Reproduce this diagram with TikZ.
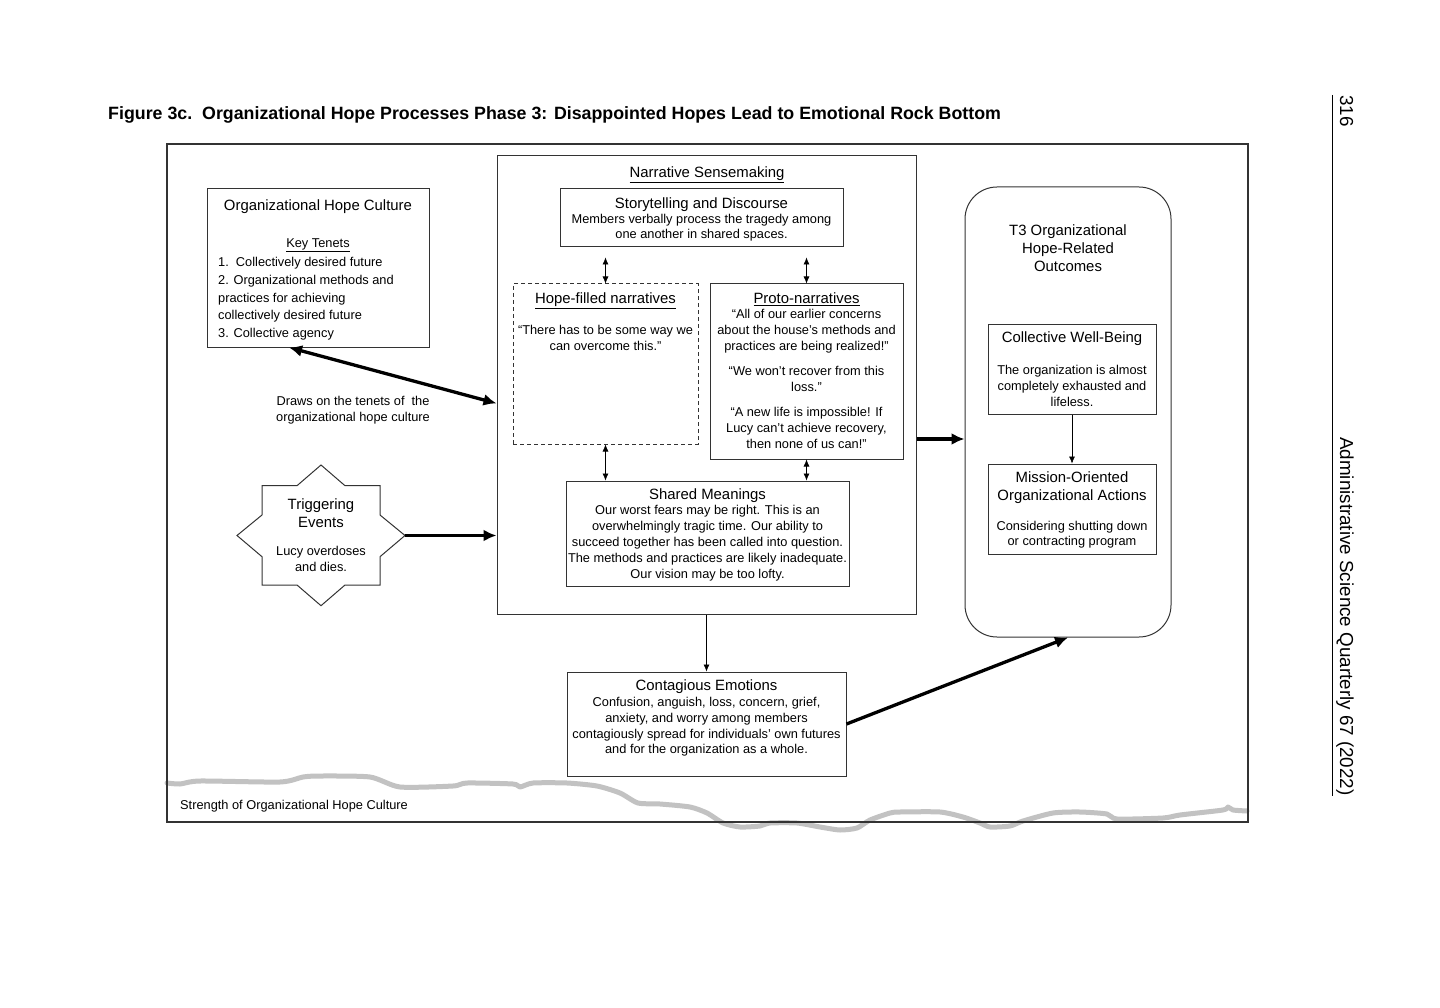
\documentclass[tikz,border=0pt]{standalone}
\usepackage{fontspec}
\setmainfont{Liberation Sans}
\usetikzlibrary{arrows.meta}
\tikzstyle{panel} = [rectangle, draw=black!80, line width=1pt, inner sep=0pt]
\tikzstyle{dashpanel} = [panel, dash pattern=on 4pt off 3pt]
\tikzstyle{roundpanel} = [panel, rounded corners=32pt]
\tikzstyle{head} = [inner sep=0pt, align=center, font=\fontsize{14.9}{18}\selectfont]
\tikzstyle{txt} = [inner sep=0pt, align=center, font=\fontsize{12.8}{15.8}\selectfont]
\tikzstyle{arrow} = [line width=3.3pt, -{Latex[length=13pt,width=12pt]}]
\tikzstyle{dblarrow} = [line width=3.3pt, {Latex[length=13pt,width=12pt]}-{Latex[length=13pt,width=12pt]}]
\tikzstyle{thin} = [line width=0.6pt, -{Latex[length=7pt,width=6pt]}]
\tikzstyle{thinboth} = [line width=0.6pt, {Latex[length=7pt,width=6pt]}-{Latex[length=7pt,width=6pt]}]
\tikzstyle{hopeline} = [line width=5pt, draw=black!24, line join=round, line cap=round]
\begin{document}
\begin{tikzpicture}[x=1pt, y=-1pt]
\useasboundingbox (0,0) rectangle (1440,1008);

%% HOPE CULTURE STRENGTH

\draw [hopeline] plot[smooth, tension=0.4] coordinates {(167,783) (180,784) (200,781) (280,782) (303,777) (320,776) (370,777) (400,787) (453,786) (467,783) (513,784) (520,787) (533,783) (567,783) (597,786) (620,793) (638,803) (660,804) (690,807) (707,813) (723,823) (740,827) (760,826) (770,823) (797,823) (820,827) (840,830) (857,828) (870,820) (890,813) (900,812) (940,812) (963,817) (980,823) (990,827) (1010,826) (1023,821) (1053,813) (1080,812) (1107,814) (1117,819) (1163,818) (1180,815) (1223,810) (1228,807) (1233,810) (1247,811)};

%% NODES

\node (fig-title) [anchor=base west, inner sep=0pt, font=\bfseries\fontsize{17.8}{20}\selectfont] at (108,120) {Figure 3c.\ \ Organizational Hope Processes Phase 3: Disappointed Hopes Lead to Emotional Rock Bottom};
\node (frame) [panel, line width=1.2pt, minimum width=1081pt, minimum height=678pt] at (707.5,483) {};

\node (ohc) [panel, minimum width=222pt, minimum height=158pt] at (318,268) {};
\node (ohc-t) [head, anchor=north] at (318,199.5) {Organizational Hope Culture};
\node (ohc-key) [txt, anchor=north] at (318,238.2) {\underline{Key Tenets}};
\node (ohc-list) [txt, align=left, anchor=north west, font=\fontsize{12.8}{17.7}\selectfont] at (218,257.2) {1.\ \ Collectively desired future\\2. Organizational methods and\\practices for achieving\\collectively desired future\\3. Collective agency};
\node (draws) [txt, anchor=north] at (353,396.2) {Draws on the tenets of\ \ the\\organizational hope culture};

\node (nar) [panel, minimum width=419pt, minimum height=458pt] at (706.5,385) {};
\node (nar-t) [head, anchor=north] at (707,166.5) {\underline{Narrative Sensemaking}};
\node (story) [panel, minimum width=283pt, minimum height=58pt] at (701.5,218) {};
\node (story-t) [head, anchor=north] at (701.5,197.5) {Storytelling and Discourse};
\node (story-b) [txt, anchor=north, font=\fontsize{12.8}{15}\selectfont] at (701.5,214.2) {Members verbally process the tragedy among\\one another in shared spaces.};
\node (hope) [dashpanel, minimum width=185pt, minimum height=160pt] at (605.5,364) {};
\node (hope-t) [head, anchor=north] at (605.5,292.5) {\underline{Hope-filled narratives}};
\node (hope-b) [txt, anchor=north] at (605.5,325.2) {“There has to be some way we\\can overcome this.”};
\node (proto) [panel, minimum width=193pt, minimum height=175pt] at (806.5,371.5) {};
\node (proto-t) [head, anchor=north] at (806.5,292.5) {\underline{Proto-narratives}};
\node (proto-b) [txt, anchor=north] at (806.5,309.2) {“All of our earlier concerns\\about the house’s methods and\\practices are being realized!”\\[9.5pt]“We won’t recover from this\\loss.”\\[9.5pt]“A new life is impossible! If\\Lucy can’t achieve recovery,\\then none of us can!”};
\node (shared) [panel, minimum width=283pt, minimum height=105pt] at (707.5,533.5) {};
\node (shared-t) [head, anchor=north] at (707.5,488.5) {Shared Meanings};
\node (shared-b) [txt, anchor=north, font=\fontsize{12.8}{16}\selectfont] at (707.5,505.2) {Our worst fears may be right. This is an\\overwhelmingly tragic time. Our ability to\\succeed together has been called into question.\\The methods and practices are likely inadequate.\\Our vision may be too lofty.};

\node (ce) [panel, minimum width=279pt, minimum height=104pt] at (706.5,724) {};
\node (ce-t) [head, anchor=north] at (706.5,679.5) {Contagious Emotions};
\node (ce-b) [txt, anchor=north, font=\fontsize{12.8}{15.7}\selectfont] at (706.5,697.2) {Confusion, anguish, loss, concern, grief,\\anxiety, and worry among members\\contagiously spread for individuals’ own futures\\and for the organization as a whole.};

\node (t3) [roundpanel, minimum width=206pt, minimum height=450pt] at (1068,412) {};
\node (t3-t) [head, anchor=north] at (1068,224.5) {T3 Organizational\\Hope-Related\\Outcomes};
\node (cwb) [panel, minimum width=168pt, minimum height=90pt] at (1072,369) {};
\node (cwb-t) [head, anchor=north] at (1072,331.5) {Collective Well-Being};
\node (cwb-b) [txt, anchor=north, font=\fontsize{12.8}{15.7}\selectfont] at (1072,365.2) {The organization is almost\\completely exhausted and\\lifeless.};
\node (mo) [panel, minimum width=168pt, minimum height=90pt] at (1072,509) {};
\node (mo-t) [head, anchor=north] at (1072,471.5) {Mission-Oriented\\Organizational Actions};
\node (mo-b) [txt, anchor=north, font=\fontsize{12.8}{14.5}\selectfont] at (1072,521.2) {Considering shutting down\\or contracting program};

% triggering star
\draw [line width=1pt, draw=black!80] (321,465) -- (345,485.7) -- (380,485.7) -- (380,515) -- (405,535.5) -- (380,556.7) -- (380,585) -- (345,585) -- (321,605.7) -- (297,585) -- (262,585) -- (262,556.7) -- (237,535.5) -- (262,515) -- (262,485.7) -- (297,485.7) -- cycle;
\coordinate (trig-tip) at (405,535.5);
\node (trig-t) [head, anchor=north] at (321,498.5) {Triggering\\Events};
\node (trig-b) [txt, anchor=north, font=\fontsize{12.8}{16}\selectfont] at (321,546.2) {Lucy overdoses\\and dies.};

\node (strength) [txt, anchor=north west] at (180,800.2) {Strength of Organizational Hope Culture};

% running head
\node (page-no) [anchor=base west, rotate=-90, inner sep=0pt, font=\fontsize{18.8}{20}\selectfont] at (1340,95) {316};
\node (journal) [anchor=base west, rotate=-90, inner sep=0pt, font=\fontsize{18.8}{20}\selectfont] at (1340,437) {Administrative Science Quarterly 67 (2022)};
\draw [line width=0.9pt] (page-no.base west -| 1332,0) -- (journal.base east -| 1332,0);

%% ARROWS

\draw [dblarrow] (ohc.250) -- (nar.185);
\draw [arrow] (trig-tip) -- (trig-tip -| nar.west);
\draw [arrow] ([yshift=-54pt]nar.east) -- ([yshift=-27pt]t3.west);
\draw [arrow] (ce.east) -- (t3.south);
\draw [thin] (nar.south) -- (ce.north);
\draw [thin] (cwb.south) -- (mo.north);
\draw [thinboth, shorten <=10pt] (story.south -| hope.north) -- (hope.north);
\draw [thinboth, shorten <=10pt] (story.south -| proto.north) -- (proto.north);
\draw [thinboth] (hope.south) -- (hope.south |- shared.north);
\draw [thinboth] (proto.south) -- (proto.south |- shared.north);

\end{tikzpicture}
\end{document}
